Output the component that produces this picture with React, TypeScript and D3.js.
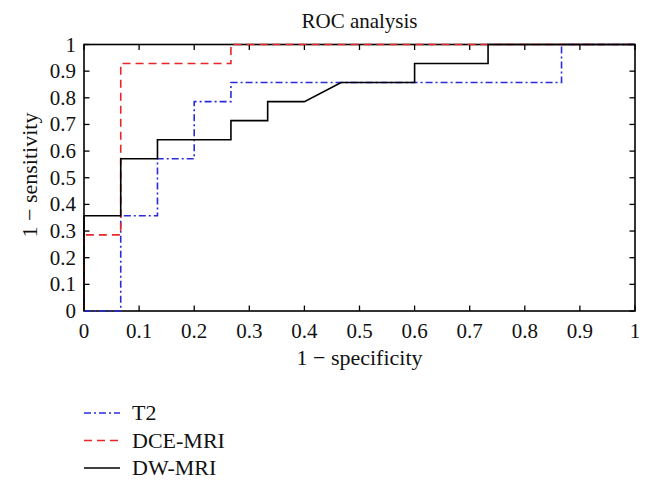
import React from "react";
import * as d3 from "d3";

const tickValues = [0, 0.1, 0.2, 0.3, 0.4, 0.5, 0.6, 0.7, 0.8, 0.9, 1];
const tickLabels = ["0", "0.1", "0.2", "0.3", "0.4", "0.5", "0.6", "0.7", "0.8", "0.9", "1"];

// false positive fraction (x) and ROC value (y)
const t2X = [0, 1 / 15, 1 / 15, 2 / 15, 2 / 15, 3 / 15, 3 / 15, 4 / 15, 4 / 15, 13 / 15, 13 / 15, 1];
const t2Y = [0, 0, 5 / 14, 5 / 14, 8 / 14, 8 / 14, 11 / 14, 11 / 14, 12 / 14, 12 / 14, 1, 1];

const dceX = [0, 0, 1 / 15, 1 / 15, 4 / 15, 4 / 15, 1];
const dceY = [0, 4 / 14, 4 / 14, 13 / 14, 13 / 14, 1, 1];

const dwX = [0, 0, 1 / 15, 1 / 15, 2 / 15, 2 / 15, 4 / 15, 4 / 15, 5 / 15, 5 / 15, 6 / 15, 7 / 15, 9 / 15, 9 / 15, 11 / 15, 11 / 15, 1];
const dwY = [0, 5 / 14, 5 / 14, 8 / 14, 8 / 14, 9 / 14, 9 / 14, 10 / 14, 10 / 14, 11 / 14, 11 / 14, 12 / 14, 12 / 14, 13 / 14, 13 / 14, 1, 1];

const seriesNames = ["T2", "DCE-MRI", "DW-MRI"];

const FONT = "Liberation Serif, DejaVu Serif, serif";

export default function App() {
  const left = 84, right = 635, top = 44.5, bottom = 311;
  const x = d3.scaleLinear().domain([0, 1]).range([left, right]);
  const y = d3.scaleLinear().domain([0, 1]).range([bottom, top]);

  const mk = (xs: number[], ys: number[]) =>
    d3.line<number>().x((_, i) => x(xs[i])).y((_, i) => y(ys[i]))(xs) || "";

  const series = [
    { name: seriesNames[0], d: mk(t2X, t2Y), color: "#2b2bdc", dash: "7,3,2,3" },
    { name: seriesNames[1], d: mk(dceX, dceY), color: "#e8262a", dash: "8,5" },
    { name: seriesNames[2], d: mk(dwX, dwY), color: "#000000", dash: "none" },
  ];

  const tickLen = 5.5;
  const legendY = [413, 440.5, 468];

  return (
    <svg width={650} height={487} style={{ position: "absolute", left: 0, top: 0, background: "#fff", fontFamily: FONT }}>
      <rect x={0} y={0} width={650} height={487} fill="#fff" />
      <text x={(left + right) / 2} y={28} textAnchor="middle" fontSize={21} fill="#111">ROC analysis</text>

      {tickValues.map((v, i) => (
        <g key={"x" + i}>
          <line x1={x(v)} x2={x(v)} y1={bottom} y2={bottom - tickLen} stroke="#000" strokeWidth={1.3} />
          <line x1={x(v)} x2={x(v)} y1={top} y2={top + tickLen} stroke="#000" strokeWidth={1.3} />
          <text x={x(v)} y={338} textAnchor="middle" fontSize={21} fill="#111">{tickLabels[i]}</text>
        </g>
      ))}
      {tickValues.map((v, i) => (
        <g key={"y" + i}>
          <line x1={left} x2={left + tickLen} y1={y(v)} y2={y(v)} stroke="#000" strokeWidth={1.3} />
          <line x1={right} x2={right - tickLen} y1={y(v)} y2={y(v)} stroke="#000" strokeWidth={1.3} />
          <text x={76} y={y(v) + 7} textAnchor="end" fontSize={21} fill="#111">{tickLabels[i]}</text>
        </g>
      ))}

      <rect x={left} y={top} width={right - left} height={bottom - top} fill="none" stroke="#000" strokeWidth={1.6} />

      {series.map((s) => (
        <path key={s.name} d={s.d} fill="none" stroke={s.color} strokeWidth={1.6} strokeDasharray={s.dash} />
      ))}

      <text x={(left + right) / 2} y={365} textAnchor="middle" fontSize={22} fill="#111">1 − specificity</text>
      <text transform={`translate(37,175) rotate(-90)`} textAnchor="middle" fontSize={22} fill="#111">1 − sensitivity</text>

      {series.map((s, i) => (
        <g key={"lg" + i}>
          <line x1={84} x2={120} y1={legendY[i]} y2={legendY[i]} stroke={s.color} strokeWidth={1.6} strokeDasharray={s.dash} />
          <text x={132} y={legendY[i] + 7} fontSize={22} fill="#111">{s.name}</text>
        </g>
      ))}
    </svg>
  );
}
